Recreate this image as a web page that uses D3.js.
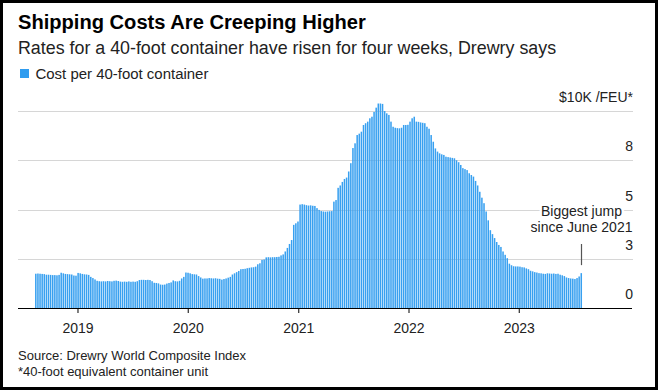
<!DOCTYPE html>
<html>
<head>
<meta charset="utf-8">
<script src="https://cdn.jsdelivr.net/npm/d3@7"></script>
<style>
  html, body { margin: 0; padding: 0; background: #fff; }
  svg { display: block; }
  text { font-family: "Liberation Sans", Arial, Helvetica, sans-serif; }
</style>
</head>
<body>
<svg id="chart" width="658" height="390"></svg>
<script>
// ---- Data ----
const title = "Shipping Costs Are Creeping Higher";
const subtitle = "Rates for a 40-foot container have risen for four weeks, Drewry says";
const seriesName = "Cost per 40-foot container";
const firstWeek = "2018-08-16";   // weekly observations
const costThousands = [
  1.74, 1.75, 1.74, 1.73, 1.72,
  1.69, 1.69, 1.68, 1.67, 1.67,
  1.66, 1.68, 1.79, 1.76, 1.73,
  1.72, 1.71, 1.70, 1.65, 1.64,
  1.78, 1.76, 1.73, 1.71, 1.70,
  1.68, 1.58, 1.52, 1.45, 1.38,
  1.36, 1.35, 1.36, 1.35, 1.37,
  1.36, 1.35, 1.38, 1.39, 1.37,
  1.34, 1.33, 1.34, 1.33, 1.35,
  1.33, 1.34, 1.33, 1.36, 1.42,
  1.43, 1.43, 1.42, 1.43, 1.42,
  1.36, 1.28, 1.27, 1.25, 1.19,
  1.18, 1.19, 1.24, 1.27, 1.30,
  1.40, 1.36, 1.35, 1.38, 1.50,
  1.58, 1.80, 1.79, 1.76, 1.72,
  1.71, 1.70, 1.62, 1.55, 1.49,
  1.50, 1.50, 1.52, 1.51, 1.50,
  1.51, 1.49, 1.48, 1.44, 1.47,
  1.50, 1.54, 1.58, 1.70, 1.76,
  1.82, 1.88, 1.97, 1.98, 1.99,
  2.02, 2.04, 2.06, 2.07, 2.10,
  2.22, 2.27, 2.44, 2.46, 2.57,
  2.58, 2.57, 2.58, 2.58, 2.59,
  2.60, 2.67, 2.72, 2.87, 3.05,
  3.25, 3.45, 4.22, 4.30, 4.39,
  5.25, 5.27, 5.25, 5.22, 5.20,
  5.21, 5.19, 5.18, 5.07, 4.98,
  4.92, 4.90, 4.89, 4.90, 4.91,
  4.92, 5.40, 5.48, 6.10, 6.22,
  6.40, 6.55, 6.62, 6.93, 7.35,
  8.12, 8.36, 8.78, 8.85, 8.95,
  9.29, 9.38, 9.46, 9.63, 9.71,
  9.95, 10.17, 10.38, 10.38, 10.36,
  10.00, 9.88, 9.80, 9.46, 9.20,
  9.15, 9.13, 9.12, 9.15, 9.29,
  9.29, 9.30, 9.46, 9.63, 9.71,
  9.46, 9.45, 9.42, 9.40, 9.38,
  9.20, 9.10, 8.78, 8.44, 8.10,
  7.94, 7.85, 7.80, 7.77, 7.68,
  7.66, 7.64, 7.62, 7.60, 7.50,
  7.40, 7.26, 7.10, 7.05, 7.00,
  6.84, 6.75, 6.67, 6.45, 6.22,
  5.90, 5.60, 5.32, 4.90, 4.45,
  3.95, 3.75, 3.55, 3.35, 3.20,
  3.10, 2.87, 2.70, 2.53, 2.25,
  2.17, 2.12, 2.11, 2.11, 2.10,
  2.07, 2.06, 2.01, 1.97, 1.89,
  1.86, 1.82, 1.80, 1.77, 1.76,
  1.74, 1.73, 1.76, 1.75, 1.74,
  1.75, 1.73, 1.74, 1.69, 1.66,
  1.62, 1.55, 1.52, 1.50, 1.49,
  1.47, 1.52, 1.60, 1.77
];
const yTickValues = [0, 2.5, 5, 7.5, 10];
const yTickLabels = ["0", "3", "5", "8", "$10K /FEU*"];
const xTickYears = [2019, 2020, 2021, 2022, 2023];
const annotationLines = ["Biggest jump", "since June 2021"];
const sourceLines = ["Source: Drewry World Composite Index", "*40-foot equivalent container unit"];

// ---- Layout ----
const W = 658, H = 390;
const plotLeft = 18, plotRight = 632, plotTop = 111, plotBottom = 308;
const barColor = "#38a0f0";

const parse = d3.timeParse("%Y-%m-%d");
const start = parse(firstWeek);
const data = costThousands.map((v, i) => ({ date: d3.timeDay.offset(start, 7 * i), value: v }));

const svg = d3.select("#chart");
svg.append("rect").attr("x", 0).attr("y", 0).attr("width", W).attr("height", H).attr("fill", "#fff");

const x = d3.scaleTime()
  .domain([parse("2018-06-18"), parse("2024-01-11")])
  .range([plotLeft, plotRight]);
const y = d3.scaleLinear().domain([0, 10]).range([plotBottom, plotTop]);

// fit a text element's font size so it spans a target width
function fitWidth(sel, baseSize, targetW) {
  sel.attr("font-size", baseSize);
  const w = sel.node().getComputedTextLength();
  if (w > 0) sel.attr("font-size", (baseSize * targetW / w).toFixed(2));
  return sel;
}

// Titles
fitWidth(svg.append("text").attr("x", 18).attr("y", 29)
  .attr("font-weight", "bold").attr("fill", "#000").text(title), 20, 348);
fitWidth(svg.append("text").attr("x", 18).attr("y", 54)
  .attr("fill", "#222").text(subtitle), 17, 538);
svg.append("rect").attr("x", 20).attr("y", 69).attr("width", 9).attr("height", 9).attr("fill", "#2f9cef");
fitWidth(svg.append("text").attr("x", 35.5).attr("y", 78.5)
  .attr("fill", "#222").text(seriesName), 15, 173);

// Gridlines
const grid = svg.append("g");
grid.selectAll("line").data(yTickValues.filter(v => v > 0)).join("line")
  .attr("x1", plotLeft).attr("x2", plotRight + 1)
  .attr("y1", d => Math.round(y(d)) + 0.5).attr("y2", d => Math.round(y(d)) + 0.5)
  .attr("stroke", "#d6d6d6").attr("stroke-width", 1);

// Y labels
svg.append("g").selectAll("text").data(yTickValues).join("text")
  .attr("x", 633).attr("y", d => y(d) - 9)
  .attr("text-anchor", "end").attr("font-size", 14).attr("fill", "#222")
  .text((d, i) => yTickLabels[i]);

// Bars
const weekPx = x(d3.timeDay.offset(start, 7)) - x(start);
const bw = weekPx * 0.72;
svg.append("g").selectAll("rect").data(data).join("rect")
  .attr("x", d => x(d.date) - bw / 2)
  .attr("width", bw)
  .attr("y", d => y(d.value))
  .attr("height", d => y(0) - y(d.value))
  .attr("fill", barColor);

// X axis
const xAxis = d3.axisBottom(x)
  .tickValues(xTickYears.map(yr => new Date(yr, 0, 1)))
  .tickFormat(d3.timeFormat("%Y"))
  .tickSize(5).tickSizeOuter(0);
const gx = svg.append("g").attr("transform", `translate(0,${plotBottom})`).call(xAxis);
gx.select(".domain").attr("stroke", "#000").attr("d", `M${plotLeft},0.5H${plotRight}`);
gx.selectAll(".tick line").attr("stroke", "#000");
gx.selectAll(".tick text").attr("font-size", 14).attr("fill", "#222")
  .attr("font-family", "Liberation Sans, Arial, sans-serif").attr("dy", null).attr("y", 25);

// Annotation
const last = data[data.length - 1];
const ax = Math.round(x(last.date)) + 0.5;
svg.append("line").attr("x1", ax).attr("x2", ax).attr("y1", 244).attr("y2", y(last.value) - 8)
  .attr("stroke", "#555").attr("stroke-width", 1.2);
svg.append("g").selectAll("text").data(annotationLines).join("text")
  .attr("x", ax).attr("y", (d, i) => 216 + i * 16)
  .attr("text-anchor", "middle").attr("font-size", 14).attr("fill", "#222")
  .attr("stroke", "#fff").attr("stroke-width", 5).attr("paint-order", "stroke")
  .attr("stroke-linejoin", "round")
  .text(d => d);

// Source
svg.append("g").selectAll("text").data(sourceLines).join("text")
  .attr("x", 18).attr("y", (d, i) => 360 + i * 16)
  .attr("font-size", 13).attr("fill", "#222").text(d => d);

// Frame
svg.append("rect").attr("x", 1.5).attr("y", 1.5).attr("width", W - 3).attr("height", H - 3)
  .attr("fill", "none").attr("stroke", "#000").attr("stroke-width", 3);
</script>
</body>
</html>
